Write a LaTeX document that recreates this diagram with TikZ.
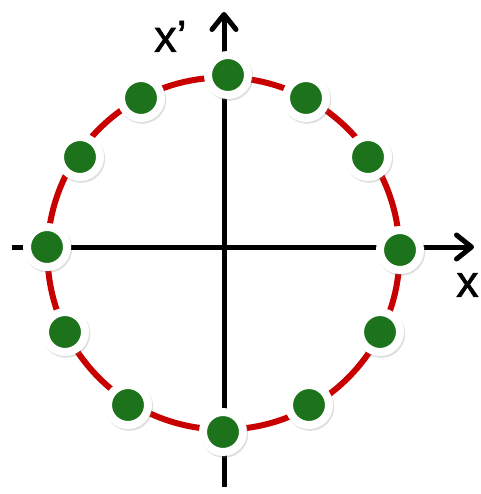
\documentclass[tikz,border=0pt]{standalone}
\usepackage{fontspec}
\setmainfont{Liberation Sans}
\newfontfamily\lblfont[FakeBold=1.2]{Liberation Sans}
\usepackage{tikz}
\usetikzlibrary{arrows.meta,shadows}
\definecolor{ringred}{RGB}{200, 0, 0}
\definecolor{dotgreen}{RGB}{28, 115, 28}

\begin{document}
\begin{tikzpicture}[
    x=1pt, y=-1pt,
    dot/.style={circle, fill=dotgreen, draw=white, line width=8pt, minimum size=40pt, inner sep=0pt,
        drop shadow={opacity=0.25, shadow xshift=1pt, shadow yshift=-1.5pt, shadow scale=1.2}},
    axis/.style={line width=5pt, black, -{Straight Barb[length=15pt, width=24pt, round]}},
    lbl/.style={font=\lblfont\fontsize{45}{45}\selectfont, inner sep=0pt, anchor=south west},
]
\useasboundingbox (0,0) rectangle (480,494);

\coordinate (c) at (223.5,253.5);
\draw[ringred, line width=6pt] (c) circle[radius=176];

\coordinate (xl) at (12,247);
\coordinate (xr) at (474,247);
\coordinate (yb) at (224,487);
\coordinate (yt) at (224,12);
\draw[axis] (xl) -- (xr);
\draw[axis] (yb) -- (yt);

\node[lbl] (xp) at (154,52) {x’};
\node[lbl] (xx) at (456,297) {x};

% points on the circle
\foreach \i/\px/\py in {1/228/75, 2/306/98, 3/368/157, 4/400/250, 5/380/332, 6/309/405,
                        7/223/432, 8/128/405, 9/65/332, 10/47/247, 11/80/157, 12/141/98}
    \node[dot] (d\i) at (\px,\py) {};
\end{tikzpicture}
\end{document}
